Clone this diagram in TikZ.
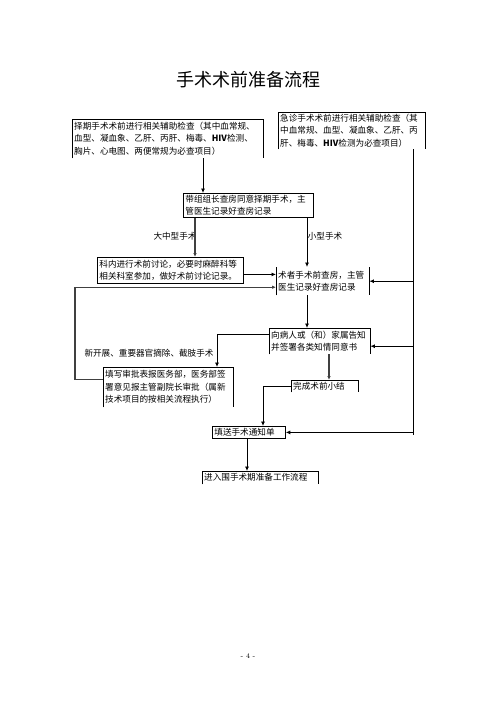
\documentclass[tikz,border=0pt]{standalone}
\usepackage{fontspec}
\newfontfamily\cjk{Noto Sans CJK SC}
\usetikzlibrary{arrows.meta}

\tikzset{
  box/.style={anchor=north west, inner xsep=2pt, inner ysep=1pt, align=left,
    font=\cjk\fontsize{8.6}{12.5}\selectfont},
  lbl/.style={inner sep=0pt, font=\cjk\fontsize{8.6}{12}\selectfont},
  line/.style={line width=0.8pt},
  flow/.style={line, -{Latex[length=4.5pt,width=4pt]}},
  flowg/.style={flow, line width=1.4pt, draw=black!75, -{Latex[length=4pt,width=3.5pt]}},
}

\begin{document}
\begin{tikzpicture}[x=1pt, y=-1pt]
    \useasboundingbox (0,0) rectangle (496,702);

    \node[font=\cjk\fontsize{18}{18}\selectfont] (title) at (248,80) {手术术前准备流程};

    % boxes
    \node[box, text width=187pt, minimum height=39pt] (A) at (72,119)
        {择期手术术前进行相关辅助检查（其中血常规、\\血型、凝血象、乙肝、丙肝、梅毒、\textbf{HIV}检测、\\胸片、心电图、两便常规为必查项目）};
    \node[box, text width=143pt, minimum height=37pt] (B) at (278,112)
        {急诊手术术前进行相关辅助检查（其\\中血常规、血型、凝血象、乙肝、丙\\肝、梅毒、\textbf{HIV}检测为必查项目）};
    \node[box, draw, line, text width=126pt, minimum height=24pt] (C) at (183,193)
        {带组组长查房同意择期手术，主\\管医生记录好查房记录};
    \node[box, draw, line, text width=142pt, minimum height=26pt] (D) at (97,257)
        {科内进行术前讨论，必要时麻醉科等\\相关科室参加，做好术前讨论记录。};
    \node[box, text width=89pt, minimum height=28pt] (E) at (276,267)
        {术者手术前查房，主管\\医生记录好查房记录};
    \node[box, text width=97pt, minimum height=26pt] (G) at (269,328)
        {向病人或（和）家属告知\\并签署各类知情同意书};
    \node[box, text width=126pt, minimum height=40pt] (F) at (103,367)
        {填写审批表报医务部，医务部签\\署意见报主管副院长审批（属新\\技术项目的按相关流程执行）};
    \node[box, text width=63pt, minimum height=12pt] (H) at (291,380) {完成术前小结};
    \node[box, draw, line, text width=69pt, minimum height=12pt] (J) at (212,426) {填送手术通知单};
    \node[box, text width=112pt, minimum height=13pt] (K) at (202,471) {进入围手术期准备工作流程};

    % open borders
    \draw[line] (A.south west) -- (A.north west) -- (A.north east) -- (A.south east);
    \draw[line] (B.south west) -- (B.north west) -- (B.north east) -- (B.south east);
    \draw[line] (E.south west) -- (E.north west) (E.north east) -- (E.south east);
    \draw[line] (G.south west) -- (G.north west) -- (G.north east) -- (G.south east);
    \draw[line] (F.south west) -- (F.north west) -- (F.north east) -- (F.south east);
    \draw[line] (H.south west) -- (H.north west) -- (H.north east) -- (H.south east);
    \draw[line] (K.south west) -- (K.north west) -- (K.north east) -- (K.south east);

    % labels
    \node[lbl] (big) at (175,236) {大中型手术};
    \node[lbl] (small) at (325,236) {小型手术};
    \node[lbl] (special) at (149,353) {新开展、重要器官摘除、截肢手术};

    % connectors
    \draw[flow] (203,0 |- A.south) -- (203,0 |- C.north);
    \coordinate (spine) at (413,435);
    \draw[line] (413,0 |- B.south) -- (spine);
    \draw[flow] (spine |- E.east) -- (E.east);
    \draw[flow] (spine |- G.east) ++(0,5) -- ([yshift=-5pt]G.east);
    \draw[flow] (spine |- J.east) -- (J.east);
    \draw[flowg] (195,0 |- C.south) -- (195,0 |- D.north);
    \draw[flow] (307,0 |- C.south) -- (307,0 |- E.north);
    \draw[flow] ([yshift=-4pt]D.east) -- ([yshift=-4pt]D.east -| E.west);
    \draw[flowg] ([yshift=8pt]F.west) -- ++(-28,0) |- ([yshift=-6pt]E.west);
    \draw[flow] (307,0 |- E.south) -- (307,0 |- G.north);
    \draw[flow] ([yshift=7pt]G.west) -| (F.north -| 217,0);
    \draw[flowg] (329,0 |- G.south) -- (329,0 |- H.north);
    \draw[flow] (H.west) -| (J.north -| 263,0);
    \draw[flow] (247,0 |- J.south) -- (247,0 |- K.north);

    \node[font=\fontsize{7}{7}\selectfont] (page) at (248,656) {- 4 -};
\end{tikzpicture}
\end{document}
